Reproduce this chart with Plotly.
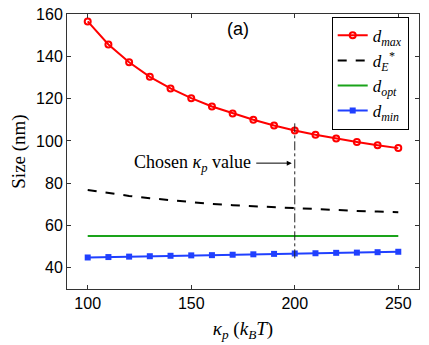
import plotly.graph_objects as go

# kappa_p values (k_B T)
kappa = [100, 110, 120, 130, 140, 150, 160, 170, 180, 190, 200, 210, 220, 230, 240, 250]

# sizes (nm)
d_max = [156.5, 145.6, 137.2, 130.3, 124.8, 120.2, 116.3, 113.0, 110.0, 107.3, 104.9, 102.9, 101.1, 99.5, 98.0, 96.6]
d_E = [76.8, 75.3, 74.0, 72.9, 71.9, 71.0, 70.2, 69.6, 69.1, 68.6, 68.2, 67.7, 67.3, 66.9, 66.6, 66.3]
d_opt = [55.0] * len(kappa)
d_min = [44.9, 45.1, 45.3, 45.5, 45.7, 45.9, 46.0, 46.2, 46.4, 46.6, 46.8, 46.9, 47.1, 47.2, 47.4, 47.6]

chosen_kappa = 200
chosen_span = [44.5, 109.0]

serif = "Liberation Serif"
sans = "Liberation Sans"

fig = go.Figure()
fig.add_trace(go.Scatter(x=kappa, y=d_max, mode="lines+markers", name="<i>d<sub>max</sub></i>",
                         line=dict(color="#ff0000", width=2),
                         marker=dict(symbol="circle-open", size=6, color="#ff0000", line=dict(width=2))))
fig.add_trace(go.Scatter(x=kappa, y=d_E, mode="lines", name="<i>d<sub>E</sub><sup>*</sup></i>",
                         line=dict(color="black", width=2, dash="dash")))
fig.add_trace(go.Scatter(x=kappa, y=d_opt, mode="lines", name="<i>d<sub>opt</sub></i>",
                         line=dict(color="#1aa31a", width=2)))
fig.add_trace(go.Scatter(x=kappa, y=d_min, mode="lines+markers", name="<i>d<sub>min</sub></i>",
                         line=dict(color="#2040ff", width=2),
                         marker=dict(symbol="square", size=6, color="#2040ff")))
fig.add_trace(go.Scatter(x=[chosen_kappa, chosen_kappa], y=chosen_span, mode="lines", showlegend=False,
                         line=dict(color="#222222", width=1, dash="dashdot")))

fig.add_annotation(x=chosen_kappa, y=89.5, ax=-40, ay=0, axref="pixel", ayref="pixel",
                   showarrow=True, arrowhead=2, arrowsize=1, arrowwidth=1, arrowcolor="black",
                   standoff=3, text="", xref="x", yref="y")
fig.add_annotation(x=180, y=89.5, xref="x", yref="y", xanchor="right", showarrow=False,
                   text="Chosen <i>κ<sub>p</sub></i> value", font=dict(family=serif, size=18, color="black"))
fig.add_annotation(x=0.485, y=0.945, xref="paper", yref="paper", showarrow=False,
                   xanchor="center", yanchor="middle",
                   text="(a)", font=dict(family=sans, size=18, color="black"))

axis_common = dict(showline=True, linecolor="#333333", linewidth=1, mirror="ticks",
                   ticks="inside", ticklen=4, tickcolor="#333333", showgrid=False, zeroline=False,
                   automargin=False, ticklabeloverflow="allow",
                   tickfont=dict(family=sans, size=16, color="black"))

fig.update_xaxes(range=[90, 260], tickvals=[100, 150, 200, 250],
                 title=dict(text="<i>κ<sub>p</sub></i> (<i>k<sub>B</sub>T</i>)", font=dict(family=serif, size=19, color="black"), standoff=10),
                 **axis_common)
fig.update_yaxes(range=[30, 160], tickvals=[40, 60, 80, 100, 120, 140, 160],
                 title=dict(text="Size (nm)", font=dict(family=serif, size=19, color="black"), standoff=6),
                 **axis_common)

# the page body adds an 8 px offset, so the figure is 8 px smaller and margins are shifted
fig.update_layout(width=421, height=337, margin=dict(l=59, r=10, t=6, b=56),
                  plot_bgcolor="white", paper_bgcolor="white",
                  legend=dict(x=0.752, y=0.99, xanchor="left", yanchor="top",
                              bordercolor="black", borderwidth=1, bgcolor="white",
                              font=dict(family=serif, size=17, color="black"),
                              tracegroupgap=0, itemwidth=30))

fig.write_html("out.html")
